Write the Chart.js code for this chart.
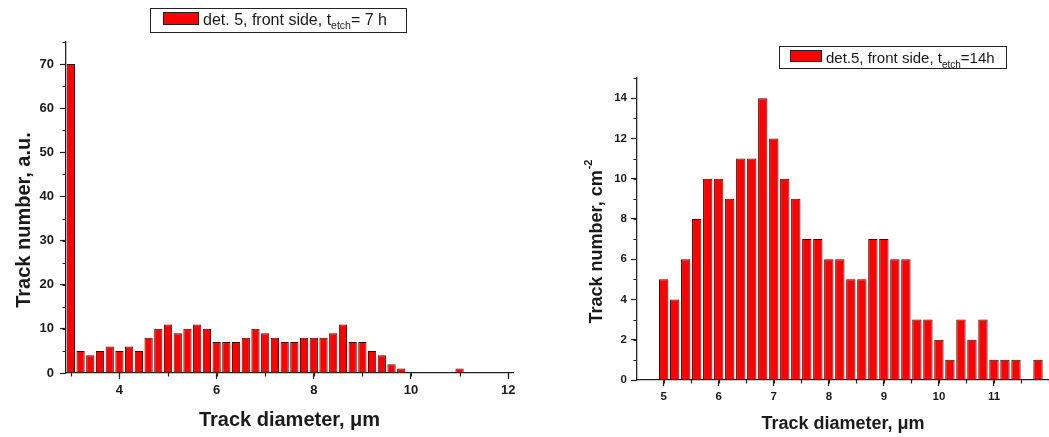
<!DOCTYPE html>
<html>
<head>
<meta charset="utf-8">
<script src="https://cdn.jsdelivr.net/npm/chart.js@4.4.1/dist/chart.umd.min.js"></script>
<style>
body { margin: 0; background: #fff; }
#wrap { position: relative; width: 1049px; height: 437px; overflow: hidden; }
#left { position: absolute; left: 0; top: 0; }
#right { position: absolute; left: 520px; top: 0; }
</style>
</head>
<body>
<div id="wrap">
<canvas id="left" width="520" height="437"></canvas>
<canvas id="right" width="529" height="437"></canvas>
</div>
<script>
// det. 5, front side, 7 h etch (empty bins left out)
const diamLeft = [3.0, 3.2, 3.4, 3.6, 3.8, 4.0, 4.2, 4.4, 4.6, 4.8, 5.0, 5.2, 5.4, 5.6, 5.8, 6.0, 6.2, 6.4, 6.6, 6.8,
                  7.0, 7.2, 7.4, 7.6, 7.8, 8.0, 8.2, 8.4, 8.6, 8.8, 9.0, 9.2, 9.4, 9.6, 9.8, 11.0];
const countLeft = [70, 5, 4, 5, 6, 5, 6, 5, 8, 10, 11, 9, 10, 11, 10, 7, 7, 7, 8, 10,
                   9, 8, 7, 7, 8, 8, 8, 9, 11, 7, 7, 5, 4, 2, 1, 1];
const xTicksLeft = [4, 6, 8, 10, 12];
const yTicksLeft = [0, 10, 20, 30, 40, 50, 60, 70];

// det.5, front side, 14 h etch
const diamRight = [5.0, 5.2, 5.4, 5.6, 5.8, 6.0, 6.2, 6.4, 6.6, 6.8, 7.0, 7.2, 7.4, 7.6, 7.8, 8.0, 8.2, 8.4,
                   8.6, 8.8, 9.0, 9.2, 9.4, 9.6, 9.8, 10.0, 10.2, 10.4, 10.6, 10.8, 11.0, 11.2, 11.4, 11.8];
const countRight = [5, 4, 6, 8, 10, 10, 9, 11, 11, 14, 12, 10, 9, 7, 7, 6, 6, 5,
                    5, 7, 7, 6, 6, 3, 3, 2, 1, 3, 2, 3, 1, 1, 1, 1];
const xTicksRight = [5, 6, 7, 8, 9, 10, 11];
const yTicksRight = [0, 2, 4, 6, 8, 10, 12, 14];

const FONT = '"Liberation Sans", Arial, sans-serif';
const INK = '#1a1a1a';

// legend with a subscript, drawn by hand
const legendBox = {
    id: 'legendBox',
    afterDraw(chart, args, o) {
        const ctx = chart.ctx;
        ctx.save();
        ctx.strokeStyle = '#222';
        ctx.lineWidth = 1;
        ctx.strokeRect(o.x + 0.5, o.y + 0.5, o.w, o.h);
        ctx.fillStyle = chart.data.datasets[0].backgroundColor;
        ctx.fillRect(o.sx, o.sy, o.sw, o.sh);
        ctx.strokeRect(o.sx + 0.5, o.sy + 0.5, o.sw - 1, o.sh - 1);
        ctx.fillStyle = INK;
        ctx.textBaseline = 'alphabetic';
        let x = o.tx;
        ctx.font = o.size + 'px ' + FONT;
        ctx.fillText(o.pre, x, o.base);
        x += ctx.measureText(o.pre).width;
        ctx.font = o.subSize + 'px ' + FONT;
        ctx.fillText(o.sub, x, o.base + o.drop);
        x += ctx.measureText(o.sub).width;
        ctx.font = o.size + 'px ' + FONT;
        ctx.fillText(o.post, x, o.base);
        ctx.restore();
    }
};

// rotated y title, with an optional superscript
const yTitle = {
    id: 'yTitle',
    afterDraw(chart, args, o) {
        const ctx = chart.ctx;
        ctx.save();
        ctx.translate(o.x, o.cy);
        ctx.rotate(-Math.PI / 2);
        ctx.fillStyle = INK;
        ctx.textBaseline = 'alphabetic';
        ctx.textAlign = 'left';
        ctx.font = 'bold ' + o.size + 'px ' + FONT;
        const w1 = ctx.measureText(o.text).width;
        ctx.font = 'bold ' + o.supSize + 'px ' + FONT;
        const w2 = o.sup ? ctx.measureText(o.sup).width : 0;
        let x = -(w1 + w2) / 2;
        ctx.font = 'bold ' + o.size + 'px ' + FONT;
        ctx.fillText(o.text, x, 0);
        if (o.sup) {
            ctx.font = 'bold ' + o.supSize + 'px ' + FONT;
            ctx.fillText(o.sup, x + w1 + 1, -o.rise);
        }
        ctx.restore();
    }
};

// short minor ticks between the labelled ones
const minorTicks = {
    id: 'minorTicks',
    afterDraw(chart, args, o) {
        const ctx = chart.ctx;
        const xs = chart.scales.x, ys = chart.scales.y;
        ctx.save();
        ctx.strokeStyle = '#222';
        ctx.lineWidth = 1.2;
        ctx.beginPath();
        for (let k = Math.ceil(xs.min / o.x - 1e-9); k * o.x <= xs.max + 1e-9; k++) {
            const px = Math.round(xs.getPixelForValue(k * o.x)) + 0.5;
            ctx.moveTo(px, xs.top);
            ctx.lineTo(px, xs.top + 3.5);
        }
        for (let k = Math.ceil(ys.min / o.y - 1e-9); k * o.y <= ys.max + 1e-9; k++) {
            const py = Math.round(ys.getPixelForValue(k * o.y)) + 0.5;
            ctx.moveTo(ys.right, py);
            ctx.lineTo(ys.right - 3.5, py);
        }
        ctx.stroke();
        ctx.restore();
    }
};

function makeChart(id, diams, counts, o) {
    let data = {
        datasets: [{
            data: diams.map((d, i) => ({ x: d, y: counts[i] })),
            backgroundColor: '#ff0000',
            borderColor: '#3a0a0a',
            borderWidth: 1,
            categoryPercentage: 1,
            barPercentage: 0.85
        }]
    };

    let axisGrid = { drawOnChartArea: false, offset: false, tickLength: 6, color: '#222', tickWidth: 1.2 };

    let config = {
        type: 'bar',
        data: data,
        options: {
            responsive: false,
            animation: false,
            events: [],
            layout: { padding: o.pad },
            plugins: {
                legend: { display: false },
                tooltip: { enabled: false },
                legendBox: o.legend,
                yTitle: o.yTitle,
                minorTicks: o.minor
            },
            scales: {
                x: {
                    type: 'linear',
                    min: o.xMin,
                    max: o.xMax,
                    offset: false,
                    grid: axisGrid,
                    border: { color: '#222', width: 1.3 },
                    ticks: { color: INK, padding: o.xPad, font: { family: FONT, size: o.tickSize, weight: 'bold' } },
                    afterBuildTicks: (axis) => { axis.ticks = o.xTicks.map(v => ({ value: v })); },
                    afterFit: (s) => { s.height = o.xH; },
                    title: {
                        display: true,
                        text: 'Track diameter, μm',
                        color: INK,
                        font: { family: FONT, size: o.titleSize, weight: 'bold' },
                        padding: { top: 0, bottom: o.xTitlePad }
                    }
                },
                y: {
                    min: 0,
                    max: o.yMax,
                    grid: axisGrid,
                    border: { color: '#222', width: 1.3 },
                    ticks: { color: INK, padding: o.yPad, font: { family: FONT, size: o.tickSize, weight: 'bold' } },
                    afterBuildTicks: (axis) => { axis.ticks = o.yTicks.map(v => ({ value: v })); },
                    afterFit: (s) => { s.width = o.yW; }
                }
            }
        },
        plugins: [legendBox, yTitle, minorTicks]
    };

    return new Chart(document.getElementById(id), config);
}

makeChart('left', diamLeft, countLeft, {
    pad: { left: 0, top: 42, right: 7, bottom: 0 },
    xMin: 2.9, xMax: 12.1, yMax: 75,
    xTicks: xTicksLeft, yTicks: yTicksLeft,
    xH: 64, yW: 66, xPad: 4, yPad: 6,
    tickSize: 13, titleSize: 20,
    xTitlePad: 5,
    yTitle: { x: 30, cy: 220, size: 20, text: 'Track number, a.u.' },
    minor: { x: 1, y: 5 },
    legend: { x: 150, y: 8, w: 256, h: 24, sx: 163, sy: 12, sw: 36, sh: 13,
              tx: 203, base: 25, size: 16, subSize: 10.5, drop: 4.3,
              pre: 'det. 5, front side, t', sub: 'etch', post: '= 7 h' }
});

makeChart('right', diamRight, countRight, {
    pad: { left: 0, top: 78, right: 0, bottom: 0 },
    xMin: 4.515, xMax: 12, yMax: 15,
    xTicks: xTicksRight, yTicks: yTicksRight,
    xH: 57, yW: 117, xPad: 4, yPad: 4,
    tickSize: 11.5, titleSize: 18,
    xTitlePad: 2.5,
    yTitle: { x: 81.5, cy: 242, size: 18, text: 'Track number, cm', sup: '-2', supSize: 11, rise: 9.5 },
    minor: { x: 0.5, y: 1 },
    legend: { x: 259, y: 46, w: 227, h: 22, sx: 270, sy: 50, sw: 32, sh: 12,
              tx: 306, base: 62.7, size: 15, subSize: 10, drop: 5.5,
              pre: 'det.5, front side, t', sub: 'etch', post: '=14h' }
});
</script>
</body>
</html>
